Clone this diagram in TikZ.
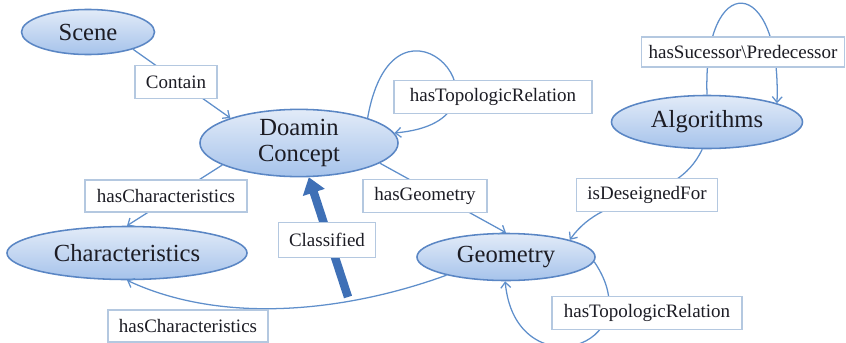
\documentclass[tikz,border=0pt]{standalone}
\usepackage{fontspec}
\setmainfont{Liberation Serif}
\newfontfamily\diagserif{Liberation Serif}
\usetikzlibrary{shapes.geometric,arrows.meta}
\definecolor{ellTop}{HTML}{E2EBF8}
\definecolor{ellBot}{HTML}{A6C3EB}
\definecolor{ellEdge}{HTML}{5A86C4}
\definecolor{lineBlue}{HTML}{5F8FCB}
\definecolor{boxEdge}{HTML}{B4C8E0}
\definecolor{txt}{HTML}{1C1C24}
\definecolor{bigBlue}{HTML}{3F70B6}
\tikzset{
  concept/.style={ellipse, draw=ellEdge, line width=1.1pt, top color=ellTop, bottom color=ellBot,
    inner sep=0pt, text=txt, align=center, font=\diagserif\fontsize{17.5}{18.5}\selectfont},
  lbl/.style={rectangle, draw=boxEdge, fill=white, line width=0.8pt, inner sep=0pt,
    text=txt, font=\diagserif\fontsize{13.5}{14}\selectfont},
  rel/.style={draw=lineBlue, line width=0.9pt, -{Straight Barb[length=4pt,width=7pt]}},
  bigarrow/.style={draw=bigBlue, line width=0.21cm, -{Triangle[length=0.4cm,width=0.55cm]}}
}
\begin{document}
\begin{tikzpicture}[x=0.025cm,y=-0.025cm]
\useasboundingbox (0,0) rectangle (846,342);
% concepts
\node[concept, minimum width=3.325cm, minimum height=1.125cm] (scene) at (88,32) {Scene};
\node[concept, minimum width=4.95cm, minimum height=1.65cm] (dc) at (299,143) {Doamin\\Concept};
\node[concept, minimum width=4.775cm, minimum height=1.325cm] (alg) at (707,122) {Algorithms};
\node[concept, minimum width=4.45cm, minimum height=1.175cm] (geo) at (506,257) {Geometry};
\node[concept, minimum width=6cm, minimum height=1.325cm] (ch) at (127,253) {Characteristics};
% relations
\draw[rel] (scene.-21) -- (dc.160);
\draw[rel] (dc.196) -- (ch.north);
\draw[rel] (dc.-14) -- (geo.north);
\draw[rel] (alg.-100) to[out=-115,in=55] (geo.15);
\draw[rel] (geo.197) to[out=200,in=-25,looseness=0.85] (ch.south);
\draw[rel] (dc.20) .. controls +(80:3.9cm) and +(5:3.5cm) .. (dc.6);
\draw[rel] (alg.90) .. controls +(92:3.125cm) and +(88:3.25cm) .. (alg.15);
\draw[rel] (geo.-3) .. controls +(-55.8:2.65cm) and +(-84.8:2.7cm) .. (geo.-92);
\coordinate (clsTail) at (348,297);
\draw[bigarrow] (clsTail) -- (dc.-74);
% labels
\node[lbl, minimum width=2.05cm, minimum height=0.825cm] (lContain) at (176,82) {Contain};
\node[lbl, minimum width=4.95cm, minimum height=0.825cm] (lTopoA) at (493,97) {hasTopologicRelation};
\node[lbl, minimum width=5.075cm, minimum height=0.75cm] (lSucc) at (743,52) {hasSucessor\textbackslash Predecessor};
\node[lbl, minimum width=4.05cm, minimum height=0.8cm] (lCharA) at (166,196) {hasCharacteristics};
\node[lbl, minimum width=3.1cm, minimum height=0.825cm] (lGeo) at (425,196) {hasGeometry};
\node[lbl, minimum width=2.425cm, minimum height=0.875cm] (lClass) at (327,240) {Classified};
\node[lbl, minimum width=3.525cm, minimum height=0.825cm] (lDes) at (647,195) {isDeseignedFor};
\node[lbl, minimum width=4.75cm, minimum height=0.825cm] (lTopoB) at (647,313) {hasTopologicRelation};
\node[lbl, minimum width=4.0cm, minimum height=0.8cm] (lCharB) at (188,326) {hasCharacteristics};
\end{tikzpicture}
\end{document}
